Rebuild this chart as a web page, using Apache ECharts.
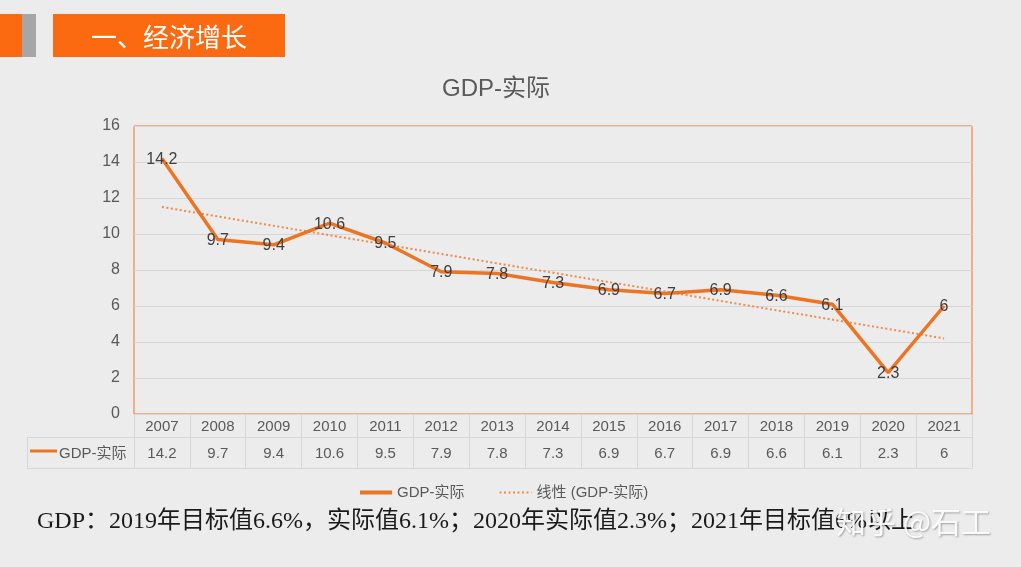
<!DOCTYPE html>
<html>
<head>
<meta charset="utf-8">
<script src="https://cdn.jsdelivr.net/npm/echarts@6/dist/echarts.min.js"></script>
<style>
html,body{margin:0;padding:0;background:#ececec;}
#c{width:1021px;height:567px;}
</style>
</head>
<body>
<div id="c"></div>
<script>
// ---- data ----
const years = ['2007','2008','2009','2010','2011','2012','2013','2014','2015','2016','2017','2018','2019','2020','2021'];
const gdp = [14.2, 9.7, 9.4, 10.6, 9.5, 7.9, 7.8, 7.3, 6.9, 6.7, 6.9, 6.6, 6.1, 2.3, 6];
const trendEnds = [11.5, 4.2]; // linear trendline start (2007) and end (2021)
const seriesName = 'GDP-实际';
const trendName = '线性 (GDP-实际)';
const headerText = '一、经济增长';
const noteText = 'GDP：2019年目标值6.6%，实际值6.1%；2020年实际值2.3%；2021年目标值6%以上';
const watermark = '知乎 @石工';

const trendData = years.map((y, i) => i === 0 ? trendEnds[0] : (i === years.length - 1 ? trendEnds[1] : null));

const ORANGE = '#ed7422';
const GRIDC = '#d6d6d6';
const TXT = '#595959';
const FONT = '"Liberation Sans", Arial, "Noto Sans CJK SC", sans-serif';

const chart = echarts.init(document.getElementById('c'));
chart.setOption({
  backgroundColor: '#ececec',
  animation: false,
  textStyle: { fontFamily: FONT },
  grid: { left: 134, right: 49, top: 126, bottom: 153, show: true, borderColor: '#ee7426', borderWidth: 1, backgroundColor: 'transparent' },
  legend: {
    left: 353, top: 480,
    itemWidth: 32, itemHeight: 10, itemGap: 34,
    itemStyle: { opacity: 0 },
    textStyle: { color: TXT, fontSize: 15, fontFamily: FONT },
    data: [
      { name: seriesName, lineStyle: { width: 4 } },
      { name: trendName }
    ]
  },
  xAxis: [
    {
      type: 'category', data: years, position: 'bottom',
      axisLine: { show: true, lineStyle: { color: GRIDC, width: 1 } },
      axisTick: { show: true, length: 54, lineStyle: { color: GRIDC } },
      axisLabel: { color: TXT, fontSize: 15, margin: 5, fontFamily: FONT },
      splitLine: { show: false }
    },
    {
      type: 'category', data: gdp.map(v => String(v)), position: 'bottom', offset: 23,
      axisLine: { show: true, lineStyle: { color: GRIDC, width: 1 } },
      axisTick: { show: false },
      axisLabel: { color: TXT, fontSize: 15, margin: 9, fontFamily: FONT }
    },
    {
      type: 'category', data: years, position: 'bottom', offset: 54,
      axisLine: { show: true, lineStyle: { color: GRIDC, width: 1 } },
      axisTick: { show: false },
      axisLabel: { show: false }
    }
  ],
  yAxis: {
    type: 'value', min: 0, max: 16, interval: 2,
    axisLine: { show: false }, axisTick: { show: false },
    axisLabel: { color: TXT, fontSize: 16, margin: 14, fontFamily: FONT },
    splitLine: { lineStyle: { color: GRIDC, width: 1 } }
  },
  series: [
    {
      name: seriesName, type: 'line', data: gdp, xAxisIndex: 0,
      symbol: 'circle', symbolSize: 0.01, showSymbol: true,
      lineStyle: { color: ORANGE, width: 3.5 },
      itemStyle: { color: ORANGE },
      label: { show: true, position: 'inside', color: '#404040', fontSize: 16, fontFamily: FONT, offset: [0, 1] },
      z: 3
    },
    {
      name: trendName, type: 'line', data: trendData, xAxisIndex: 0,
      connectNulls: true, symbol: 'none',
      lineStyle: { color: '#ee8a4c', width: 2, type: [2, 2.5] },
      itemStyle: { color: '#ee8a4c' },
      label: { show: false },
      z: 2
    }
  ],
  graphic: [
    { type: 'rect', shape: { x: 0, y: 14, width: 22, height: 43 }, style: { fill: '#fb6a10' } },
    { type: 'rect', shape: { x: 22, y: 14, width: 14, height: 43 }, style: { fill: '#a6a6a6' } },
    { type: 'rect', shape: { x: 53, y: 14, width: 232, height: 43 }, style: { fill: '#fb6a10' } },
    { type: 'text', x: 169, y: 37, style: { text: headerText, fill: '#ffffff', fontSize: 26, fontFamily: '"Noto Sans CJK SC", sans-serif', textAlign: 'center', textVerticalAlign: 'middle' } },
    { type: 'text', x: 496, y: 89, style: { text: seriesName, fill: TXT, fontSize: 24, fontFamily: FONT, textAlign: 'center', textVerticalAlign: 'middle' } },
    // left table cell
    { type: 'line', shape: { x1: 27, y1: 437.5, x2: 134, y2: 437.5 }, style: { stroke: GRIDC, lineWidth: 1 } },
    { type: 'line', shape: { x1: 27, y1: 468.5, x2: 134, y2: 468.5 }, style: { stroke: GRIDC, lineWidth: 1 } },
    { type: 'line', shape: { x1: 27.5, y1: 437, x2: 27.5, y2: 468 }, style: { stroke: GRIDC, lineWidth: 1 } },
    { type: 'line', shape: { x1: 30, y1: 451, x2: 57, y2: 451 }, style: { stroke: ORANGE, lineWidth: 3 } },
    { type: 'text', x: 59, y: 454, style: { text: seriesName, fill: TXT, fontSize: 15, fontFamily: FONT, textVerticalAlign: 'middle' } },
    // note text
    { type: 'text', x: 37, y: 522, style: { text: noteText, fill: '#1a1a1a', fontSize: 24, fontFamily: '"Liberation Serif", "Noto Sans CJK SC", serif', textVerticalAlign: 'middle' } },
    { type: 'text', x: 836, y: 522, z: 100, style: { text: watermark, fill: 'rgba(255,255,255,0.92)', fontSize: 30, fontFamily: '"Noto Sans CJK SC", sans-serif', textVerticalAlign: 'middle', textShadowColor: 'rgba(0,0,0,0.35)', textShadowBlur: 2, textShadowOffsetX: 1, textShadowOffsetY: 1 } }
  ]
});
</script>
</body>
</html>
